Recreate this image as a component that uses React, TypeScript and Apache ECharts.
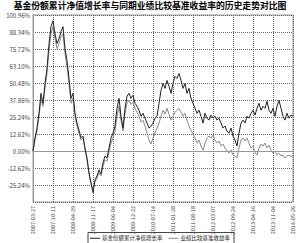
import React, { useEffect, useRef } from "react";
import * as echarts from "echarts";

const titleText = "基金份额累计净值增长率与同期业绩比较基准收益率的历史走势对比图";
const seriesNames = ["基金份额累计净值增长率", "业绩比较基准收益率"];
const dateLabels = [
  "2007-03-27", "2007-10-11", "2008-04-29", "2008-11-17", "2009-06-04",
  "2009-12-22", "2010-07-14", "2011-01-28", "2011-08-18", "2012-03-07",
  "2012-09-24", "2013-04-16", "2013-11-04", "2014-05-26",
];
const fundValues = [
  0, 9.6, 17.0, 28.0, 42.8, 35.4, 50.2, 61.3, 79.7, 92.3,
  96.7, 87.1, 79.7, 83.4, 88.6, 92.3, 76.0, 67.2, 53.9, 39.1,
  42.8, 28.0, 20.7, 15.5, 9.6, 11.1, 2.2, -5.2, -16.2, -23.6,
  -31.0, -21.4, -18.5, -14.0, -17.0, -8.9, -3.7, -5.2, 2.2, 9.6,
  13.3, 18.5, 31.7, 39.1, 25.8, 17.0, 31.7, 40.6, 42.8, 39.1,
  41.3, 35.4, 33.2, 30.3, 25.8, 28.0, 24.4, 20.7, 17.0, 18.5,
  20.7, 24.4, 25.8, 35.4, 45.0, 50.2, 46.5, 52.4, 48.0, 42.8,
  50.2, 55.4, 53.9, 57.6, 52.4, 46.5, 50.2, 42.8, 46.5, 39.1,
  35.4, 31.7, 28.0, 30.3, 25.8, 20.7, 28.0, 24.4, 22.9, 26.6,
  24.4, 25.8, 22.9, 24.4, 20.7, 17.0, 18.5, 14.8, 13.3, 17.0,
  11.1, 8.1, 3.7, 13.3, 20.7, 22.9, 20.7, 25.8, 24.4, 28.0,
  30.3, 26.6, 31.7, 35.4, 30.3, 33.2, 31.7, 36.9, 30.3, 28.0,
  31.7, 25.8, 33.2, 37.6, 31.7, 25.8, 22.9, 28.0, 24.4, 26.6,
  25.8,
];
const benchValues = [
  0, 8.1, 14.8, 25.8, 39.1, 33.2, 46.5, 57.6, 74.5, 87.1,
  92.3, 83.4, 76.0, 79.7, 84.9, 87.1, 72.3, 62.7, 50.2, 35.4,
  39.1, 25.8, 18.5, 13.3, 8.1, 9.6, 0.7, -6.6, -17.0, -24.4,
  -28.8, -22.9, -19.9, -16.2, -18.5, -11.1, -6.6, -7.4, -0.7, 5.9,
  9.6, 14.8, 25.8, 33.2, 22.9, 14.8, 28.0, 35.4, 37.6, 34.7,
  36.2, 31.7, 28.8, 25.8, 21.4, 22.9, 18.5, 13.3, 8.1, 5.2,
  9.6, 13.3, 17.0, 20.7, 25.8, 30.3, 27.3, 31.7, 27.3, 22.9,
  25.8, 28.8, 30.3, 31.7, 28.8, 25.8, 28.0, 22.9, 18.5, 15.5,
  12.5, 9.6, 5.9, 8.1, 3.7, 0.7, 5.9, 9.6, 11.1, 9.6,
  11.8, 8.1, 5.9, 7.4, 3.7, 5.2, 2.2, 0, -1.5, 0.7,
  -3.0, -3.7, -5.2, 2.2, 8.1, 9.6, 7.4, 9.6, 5.9, 2.2,
  3.7, -1.5, -3.0, 2.2, 5.2, 3.7, 5.9, 2.2, 4.4, 0.7,
  -1.5, 0, -3.0, -1.5, -3.7, -3.0, -5.2, -3.7, -3.0, -4.4,
  -3.0,
];
const yMin = -37.86;
const yMax = 100.96;
const yStep = 12.62;

const toPoints = (vals: number[]) =>
  vals.map((v, i) => [(i * (dateLabels.length - 1)) / (vals.length - 1), v]);

export default function App() {
  const ref = useRef<HTMLDivElement>(null);
  useEffect(() => {
    if (!ref.current) return;
    const chart = echarts.init(ref.current, null, { renderer: "svg" });
    const font = "Noto Sans CJK SC";
    chart.setOption({
      animation: false,
      backgroundColor: "#fff",
      title: {
        text: titleText,
        left: "center",
        top: 0,
        padding: 0,
        textStyle: { fontSize: 8.8, lineHeight: 11, fontWeight: "bold", color: "#000", fontFamily: font },
      },
      legend: {
        data: seriesNames,
        bottom: -6,
        left: 88,
        itemWidth: 10,
        itemHeight: 4,
        itemGap: 6,
        padding: [3, 4, 8, 2],
        borderColor: "#444",
        borderWidth: 1,
        icon: "path://M0,2 L10,2 L10,3 L0,3 Z",
        textStyle: { fontSize: 5.5, color: "#222", fontFamily: font, padding: [0, 0, 0, -3] },
      },
      grid: {
        left: 33,
        right: 7,
        top: 15,
        bottom: 41,
        show: true,
        borderColor: "#999",
        borderWidth: 1,
      },
      xAxis: {
        type: "value",
        min: 0,
        max: dateLabels.length - 1,
        interval: 1,
        axisLine: { show: true, lineStyle: { color: "#999" } },
        axisTick: { show: false },
        axisLabel: {
          rotate: 90,
          fontSize: 5.5,
          color: "#444",
          margin: 4,
          fontFamily: font,
          formatter: (v: number) => dateLabels[Math.round(v)] ?? "",
        },
        splitLine: { show: true, lineStyle: { color: "#666", type: "dotted", width: 1 } },
      },
      yAxis: {
        type: "value",
        min: yMin,
        max: yMax,
        interval: yStep,
        axisLine: { show: true, lineStyle: { color: "#999" } },
        axisTick: { show: false },
        axisLabel: {
          fontSize: 6,
          color: "#444",
          margin: 3,
          fontFamily: font,
          formatter: (v: number) => (Math.abs(v - yMin) < 1e-6 ? "" : v.toFixed(2) + "%"),
        },
        splitLine: { show: true, lineStyle: { color: "#666", type: "dotted", width: 1 } },
      },
      series: [
        {
          name: seriesNames[1],
          type: "line",
          data: toPoints(benchValues),
          symbol: "none",
          lineStyle: { color: "#8a8a8a", width: 1 },
          itemStyle: { color: "#8a8a8a" },
        },
        {
          name: seriesNames[0],
          type: "line",
          data: toPoints(fundValues),
          symbol: "none",
          lineStyle: { color: "#222", width: 1 },
          itemStyle: { color: "#222" },
        },
      ],
    });
    return () => chart.dispose();
  }, []);
  return (
    <div
      ref={ref}
      style={{ position: "absolute", left: 0, top: 0, width: 300, height: 243 }}
    />
  );
}
